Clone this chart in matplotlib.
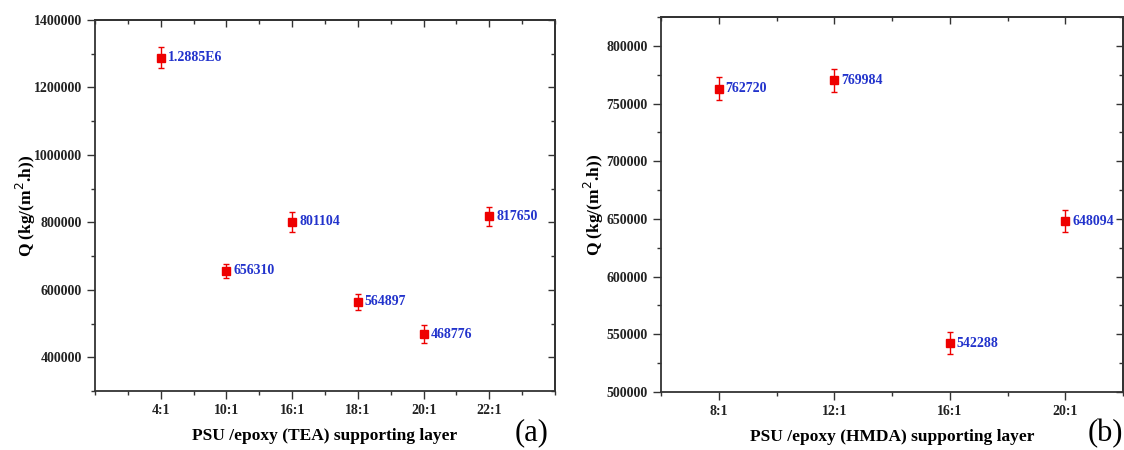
import matplotlib
matplotlib.use('Agg')
import matplotlib.pyplot as plt
from matplotlib.ticker import MultipleLocator, ScalarFormatter

plt.rcParams['font.family'] = ['Liberation Serif', 'DejaVu Serif']

# panel (a): TEA
cats_a = ['4:1', '10:1', '16:1', '18:1', '20:1', '22:1']
q_a = [1288500, 656310, 801104, 564897, 468776, 817650]
err_a = [31000, 20000, 29000, 24000, 26000, 28000]
labels_a = ['1.2885E6', '656310', '801104', '564897', '468776', '817650']

# panel (b): HMDA
cats_b = ['8:1', '12:1', '16:1', '20:1']
q_b = [762720, 769984, 542288, 648094]
err_b = [10000, 10000, 9500, 9500]
labels_b = ['762720', '769984', '542288', '648094']

W, H = 1124, 450
fig = plt.figure(figsize=(W / 100, H / 100), dpi=100)
ax_a = fig.add_axes([95 / W, 1 - 391 / H, 460 / W, 371 / H])
ax_b = fig.add_axes([661 / W, 1 - 392 / H, 462 / W, 375 / H])


def draw(ax, cats, q, err, labels, xlim, ylim, ystep, xlabel, ypad):
    x = list(range(1, len(cats) + 1))
    ax.errorbar(x, q, yerr=err, fmt='s', color='#ee0000', ecolor='#ee0000',
                markersize=5.5, capsize=2.5, elinewidth=1, capthick=1)
    for xi, yi, lab in zip(x, q, labels):
        ax.annotate(lab, (xi, yi), xytext=(5, 0), textcoords='offset points',
                    va='center', ha='left', color='#2233cc', fontsize=10,
                    fontweight='bold')
    ax.set_xlim(*xlim)
    ax.set_ylim(*ylim)
    ax.set_xticks(x)
    ax.set_xticklabels(cats)
    ax.xaxis.set_minor_locator(MultipleLocator(0.5))
    ax.yaxis.set_major_locator(MultipleLocator(ystep))
    ax.yaxis.set_minor_locator(MultipleLocator(ystep / 2))
    fmt = ScalarFormatter(useOffset=False)
    fmt.set_scientific(False)
    ax.yaxis.set_major_formatter(fmt)
    ax.tick_params(which='both', labelsize=10, width=1, direction='out',
                   colors='#333333', labelcolor='#222222')
    ax.tick_params(which='major', length=6)
    ax.tick_params(which='minor', length=3)
    for lab in ax.get_xticklabels() + ax.get_yticklabels():
        lab.set_fontweight('bold')
    # mirrored ticks pointing inward on top and right
    top = ax.secondary_xaxis('top')
    top.set_xticks(x)
    top.xaxis.set_minor_locator(MultipleLocator(0.5))
    top.tick_params(which='both', direction='in', labeltop=False, width=1,
                    colors='#333333')
    top.tick_params(which='major', length=5)
    top.tick_params(which='minor', length=3)
    right = ax.secondary_yaxis('right')
    right.yaxis.set_major_locator(MultipleLocator(ystep))
    right.yaxis.set_minor_locator(MultipleLocator(ystep / 2))
    right.tick_params(which='both', direction='in', labelright=False, width=1,
                      colors='#333333')
    right.tick_params(which='major', length=5)
    right.tick_params(which='minor', length=3)
    for s in list(ax.spines.values()) + [top.spines['top'], right.spines['right']]:
        s.set_linewidth(1.3)
        s.set_color('#333333')
    ax.set_xlabel(xlabel, fontsize=12.5, fontweight='bold', labelpad=8)
    ax.set_ylabel('Q (kg/(m$^2$.h))', fontsize=12.5, fontweight='bold',
                  labelpad=ypad)


draw(ax_a, cats_a, q_a, err_a, labels_a, (0, 7), (300000, 1400000), 200000,
     'PSU /epoxy (TEA) supporting layer', -3)
draw(ax_b, cats_b, q_b, err_b, labels_b, (0.5, 4.5), (500000, 825000), 50000,
     'PSU /epoxy (HMDA) supporting layer', 0)

fig.text(532 / W, 1 - 433 / H, '(a)', fontsize=22, ha='center', va='center')
fig.text(1105 / W, 1 - 434 / H, '(b)', fontsize=22, ha='center', va='center')

fig.savefig('out.png', dpi=100)
